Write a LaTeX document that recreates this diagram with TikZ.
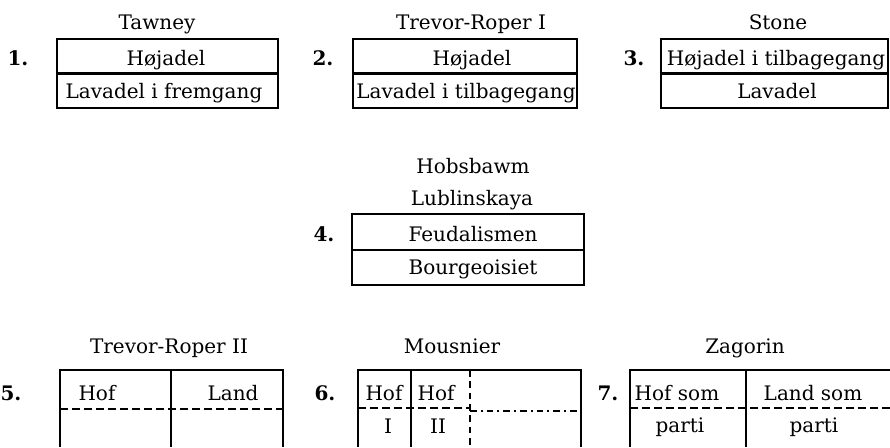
\documentclass[tikz,border=0pt]{standalone}
\usepackage{fontspec}
\setmainfont{DejaVu Serif}
\begin{document}
\begin{tikzpicture}[x=0.75pt,y=-0.75pt,
  txt/.style={font=\fontsize{15}{17}\selectfont, inner sep=0pt, anchor=base},
  num/.style={font=\fontsize{15}{17}\selectfont\bfseries, inner sep=0pt, anchor=base},
  frame/.style={line width=1.9pt},
  dsh/.style={line width=1.5pt, dash pattern=on 6pt off 3pt},
  vdsh/.style={line width=1.5pt, dash pattern=on 5pt off 3.5pt},
  ddot/.style={line width=1.3pt, dash pattern=on 5pt off 3pt on 1.5pt off 3pt}]
\useasboundingbox (0,0) rectangle (890,447);
% ---- 1. Tawney
\draw[frame] (57,39) rectangle (278,108);
\draw[frame] (57,73.5) -- (278,73.5);
\node[txt] (t1) at (157,29) {Tawney};
\node[num] (n1) at (18,65) {1.};
\node[txt] (a1) at (166,65) {Højadel};
\node[txt] (b1) at (164,98) {Lavadel i fremgang};
% ---- 2. Trevor-Roper I
\draw[frame] (353,39) rectangle (577,108);
\draw[frame] (353,73.5) -- (577,73.5);
\node[txt] (t2) at (471,29) {Trevor-Roper I};
\node[num] (n2) at (323,65) {2.};
\node[txt] (a2) at (472,65) {Højadel};
\node[txt] (b2) at (466,98) {Lavadel i tilbagegang};
% ---- 3. Stone
\draw[frame] (661,39) rectangle (888,108);
\draw[frame] (661,73.5) -- (888,73.5);
\node[txt] (t3) at (778,29) {Stone};
\node[num] (n3) at (634,65) {3.};
\node[txt] (a3) at (776,65) {Højadel i tilbagegang};
\node[txt] (b3) at (777,98) {Lavadel};
% ---- 4. Hobsbawm / Lublinskaya
\draw[frame] (352,214) rectangle (584,285);
\draw[frame] (352,250) -- (584,250);
\node[txt] (t4a) at (473,173) {Hobsbawm};
\node[txt] (t4b) at (472,205) {Lublinskaya};
\node[num] (n4) at (324,241) {4.};
\node[txt] (a4) at (473,241) {Feudalismen};
\node[txt] (b4) at (473,274) {Bourgeoisiet};
% ---- 5. Trevor-Roper II
\draw[frame] (60,447) -- (60,370) -- (283,370) -- (283,447);
\draw[frame] (171,370) -- (171,447);
\draw[dsh] (60,409) -- (283,409);
\node[txt] (t5) at (169,353) {Trevor-Roper II};
\node[num] (n5) at (11,400) {5.};
\node[txt] (a5) at (97,400) {Hof};
\node[txt] (b5) at (233,400) {Land};
% ---- 6. Mousnier
\draw[frame] (358,447) -- (358,370) -- (581,370) -- (581,447);
\draw[frame] (411,370) -- (411,447);
\draw[vdsh] (470,370) -- (470,447);
\draw[dsh] (358,408) -- (470,408);
\draw[ddot] (470,411) -- (581,411);
\node[txt] (t6) at (452,353) {Mousnier};
\node[num] (n6) at (325,400) {6.};
\node[txt] (a6) at (384,400) {Hof};
\node[txt] (b6) at (436,400) {Hof};
\node[txt] (c6) at (388,433) {I};
\node[txt] (d6) at (438,433) {II};
% ---- 7. Zagorin
\draw[frame] (630,447) -- (630,370) -- (890,370);
\draw[frame] (746,370) -- (746,447);
\draw[dsh] (630,408) -- (890,408);
\node[txt] (t7) at (745,353) {Zagorin};
\node[num] (n7) at (608,400) {7.};
\node[txt] (a7) at (677,400) {Hof som};
\node[txt] (b7) at (813,400) {Land som};
\node[txt] (c7) at (680,432) {parti};
\node[txt] (d7) at (814,432) {parti};
\end{tikzpicture}
\end{document}
